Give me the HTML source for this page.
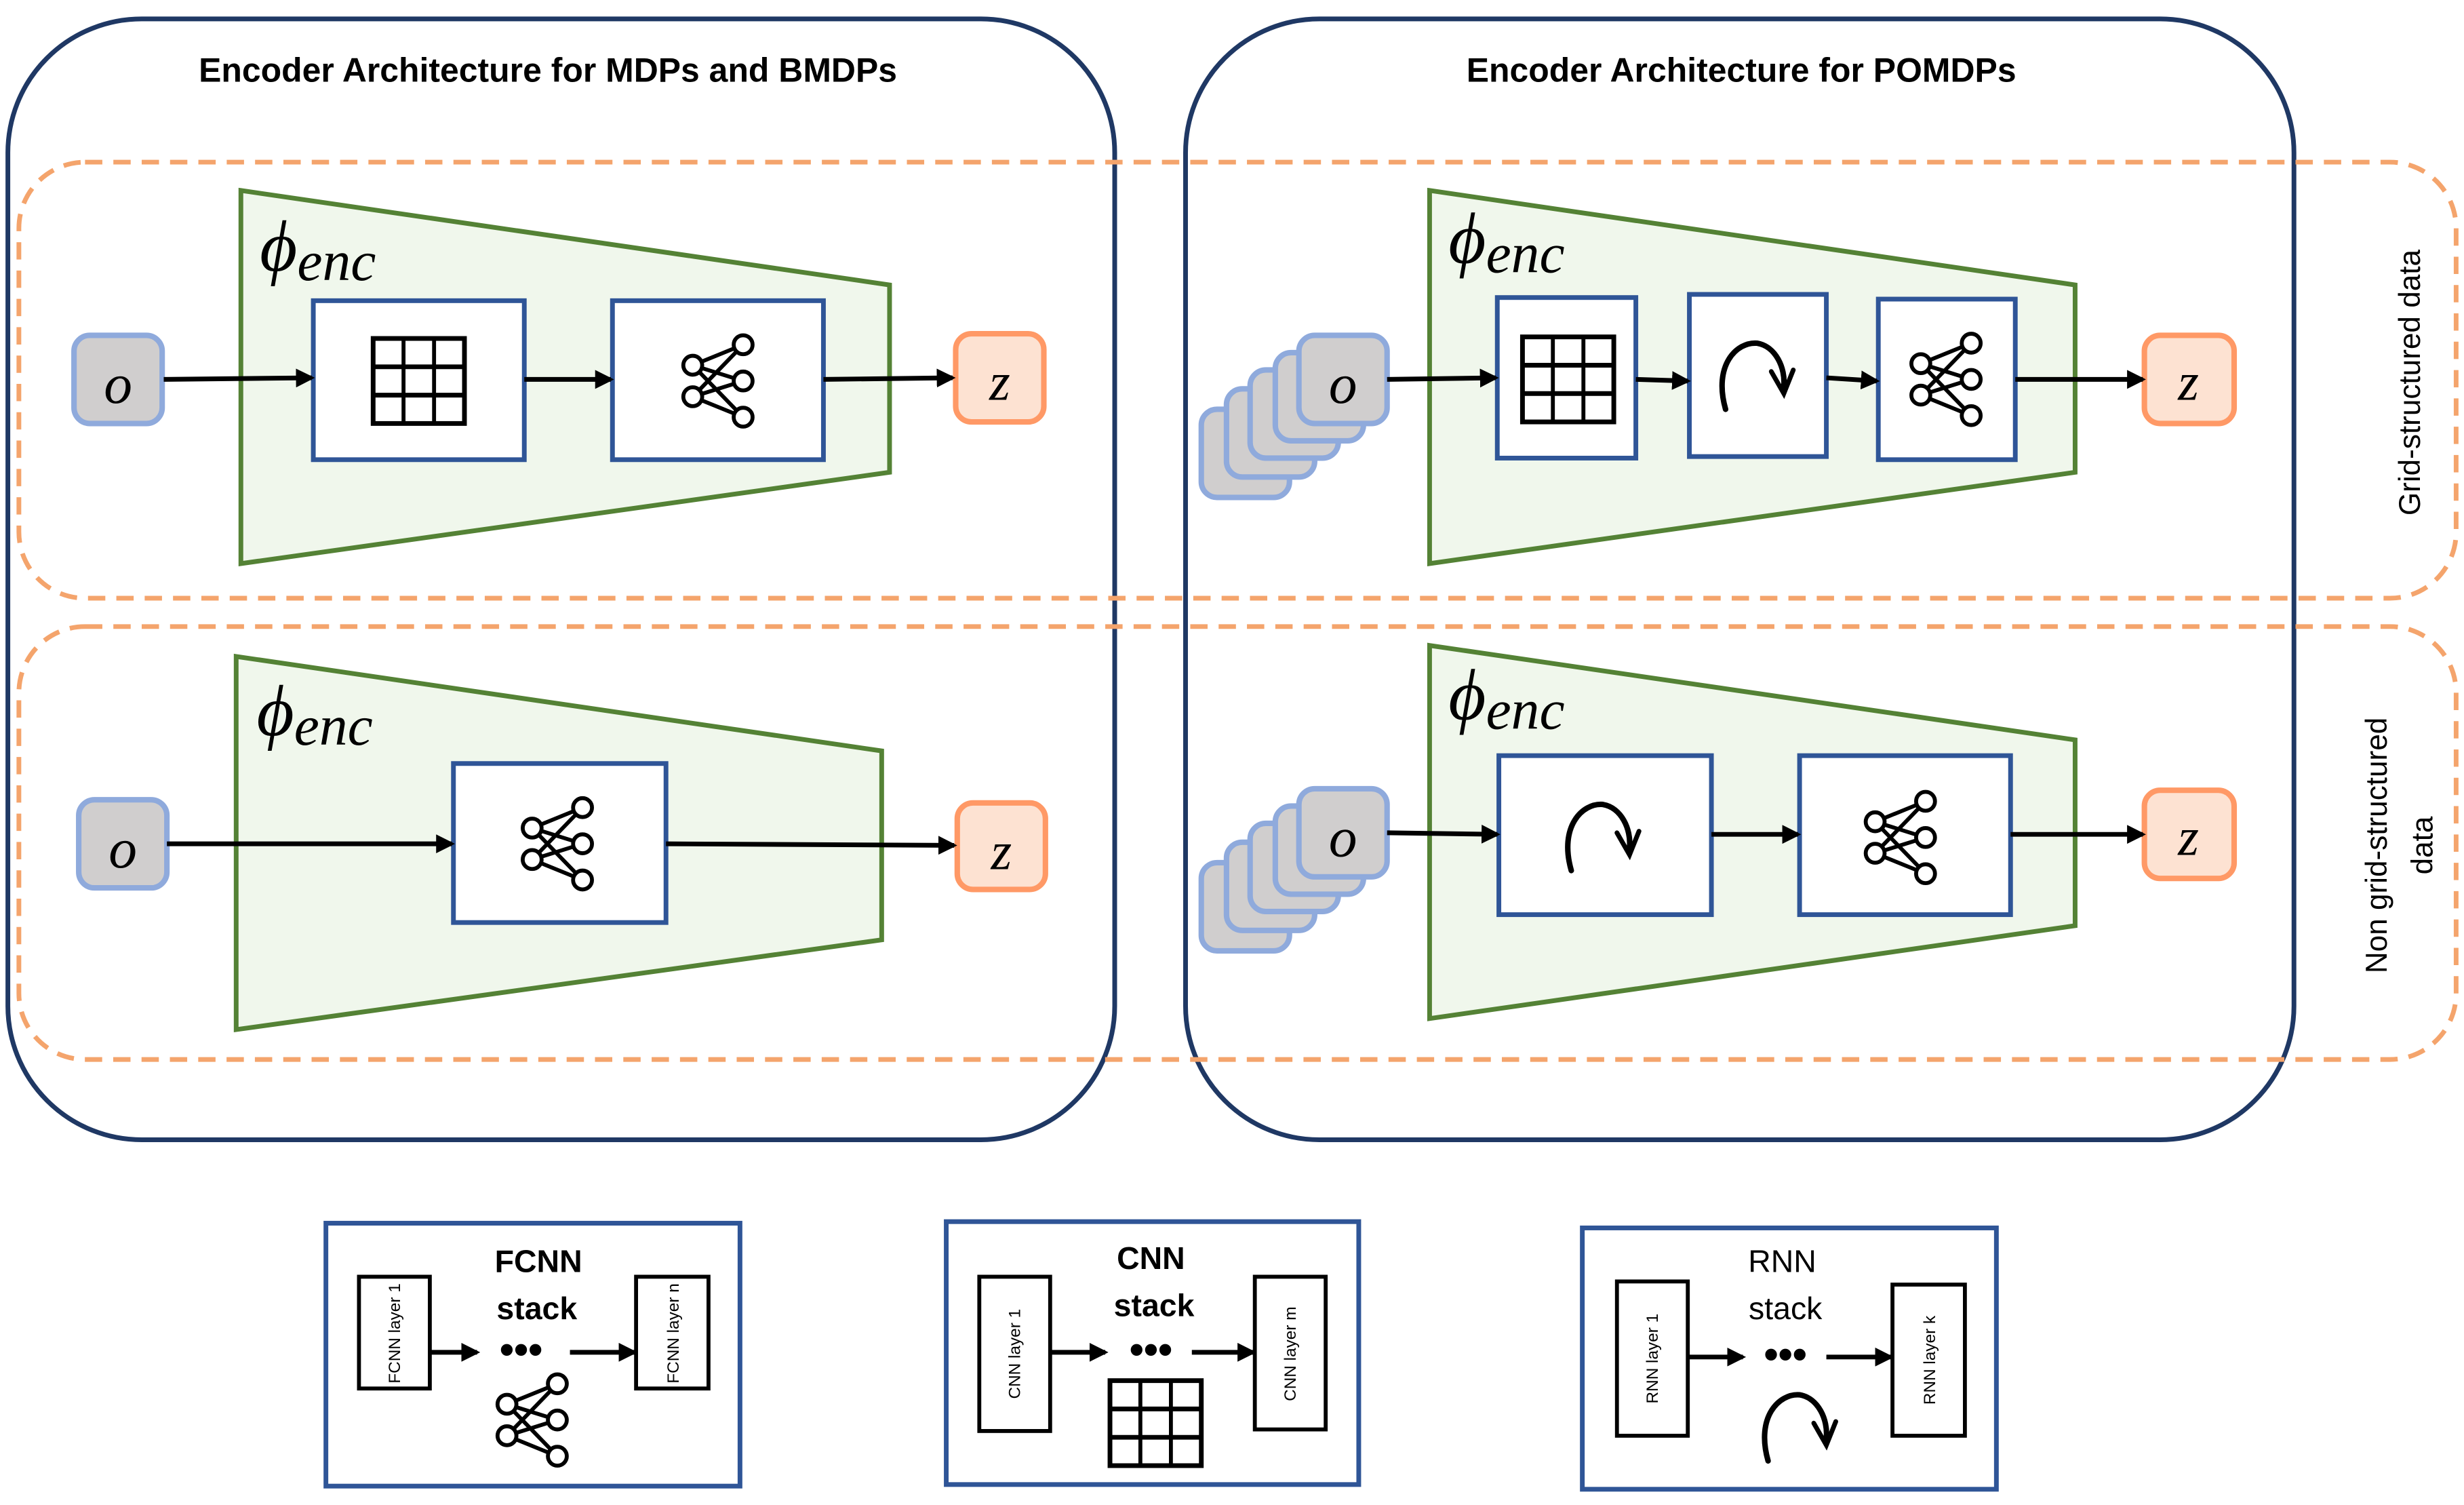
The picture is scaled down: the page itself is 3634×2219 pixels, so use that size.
<!DOCTYPE html>
<html><head><meta charset="utf-8"><style>
html,body{margin:0;padding:0;background:#fff;}
svg{display:block;}
</style></head><body>
<svg xmlns="http://www.w3.org/2000/svg" width="3634" height="2219" viewBox="0 0 1565 956" preserveAspectRatio="none">
<defs>
<marker id="ah" markerWidth="12" markerHeight="12" refX="10" refY="6" orient="auto" markerUnits="userSpaceOnUse">
<path d="M0,0 L12,6 L0,12 Z" fill="#000"/></marker>
<g id="grid"><rect x="0" y="0" width="58" height="54" fill="none" stroke="#000" stroke-width="3"/>
<line x1="19.3" y1="0" x2="19.3" y2="54" stroke="#000" stroke-width="2.5"/><line x1="38.7" y1="0" x2="38.7" y2="54" stroke="#000" stroke-width="2.5"/>
<line x1="0" y1="18" x2="58" y2="18" stroke="#000" stroke-width="3"/><line x1="0" y1="36" x2="58" y2="36" stroke="#000" stroke-width="3"/></g>
<g id="net" fill="none" stroke="#000" stroke-width="2.5">
<line x1="8" y1="20" x2="40" y2="7"/><line x1="8" y1="20" x2="40" y2="30"/><line x1="8" y1="20" x2="40" y2="53"/>
<line x1="8" y1="40" x2="40" y2="7"/><line x1="8" y1="40" x2="40" y2="30"/><line x1="8" y1="40" x2="40" y2="53"/>
<circle cx="8" cy="20" r="6" fill="#fff"/><circle cx="8" cy="40" r="6" fill="#fff"/>
<circle cx="40" cy="7" r="6" fill="#fff"/><circle cx="40" cy="30" r="6" fill="#fff"/><circle cx="40" cy="53" r="6" fill="#fff"/></g>
<g id="rnn" fill="none" stroke="#000" stroke-width="3.5" stroke-linecap="round">
<path d="M8,48 C0,20 15,5 28,6 C40,8 46,22 45,33"/>
<path d="M37,24 L45,38 L51,23" stroke-width="3"/></g>
<g id="obox"><rect x="0" y="0" width="56" height="56" rx="10" fill="#d0cece" stroke="#8faadc" stroke-width="3.5"/></g>
</defs>
<style>
.t{font-family:"Liberation Sans",sans-serif;}
.m{font-family:"Liberation Serif",serif;font-style:italic;}
</style>

<rect x="5" y="12" width="703" height="712" rx="85" fill="none" stroke="#1f3864" stroke-width="3"/>
<rect x="753" y="12" width="704" height="712" rx="85" fill="none" stroke="#1f3864" stroke-width="3"/>
<text class="t" x="348" y="52" font-size="21.5" font-weight="bold" text-anchor="middle">Encoder Architecture for MDPs and BMDPs</text>
<text class="t" x="1106" y="52" font-size="21.5" font-weight="bold" text-anchor="middle">Encoder Architecture for POMDPs</text>

<rect x="12" y="103" width="1548" height="277" rx="42" fill="none" stroke="#f4a46c" stroke-width="3" stroke-dasharray="11,7"/>
<rect x="12" y="398" width="1548" height="275" rx="42" fill="none" stroke="#f4a46c" stroke-width="3" stroke-dasharray="11,7"/>
<text class="t" x="1537" y="243" font-size="19" text-anchor="middle" transform="rotate(-90 1537 243)">Grid-structured data</text>
<text class="t" font-size="19" text-anchor="middle" transform="rotate(-90 1516 537)" x="1516" y="537">Non grid-structured</text>
<text class="t" font-size="19" text-anchor="middle" transform="rotate(-90 1545 537)" x="1545" y="537">data</text>

<polygon points="153,121 565,181 565,300 153,358" fill="#f0f7ec" stroke="#548235" stroke-width="3"/>
<text class="m" x="165" y="172" font-size="46">ϕ<tspan font-size="36" dy="6">enc</tspan></text>
<use href="#obox" x="47" y="213"/>
<text class="m" x="75" y="256" font-size="36" text-anchor="middle">o</text>
<rect x="199" y="191" width="134" height="101" fill="#fff" stroke="#2f5597" stroke-width="3"/>
<use href="#grid" x="237" y="215"/>
<rect x="389" y="191" width="134" height="101" fill="#fff" stroke="#2f5597" stroke-width="3"/>
<use href="#net" x="432" y="212"/>
<rect x="607" y="212" width="56" height="56" rx="10" fill="#fde2d2" stroke="#ff9966" stroke-width="3.5"/>
<text class="m" x="635" y="254" font-size="34" text-anchor="middle">z</text>
<g stroke="#000" stroke-width="3" marker-end="url(#ah)">
<line x1="104" y1="241" x2="198" y2="240"/><line x1="333" y1="241" x2="388" y2="241"/><line x1="523" y1="241" x2="605" y2="240"/></g>

<polygon points="150,417 560,477 560,597 150,654" fill="#f0f7ec" stroke="#548235" stroke-width="3"/>
<text class="m" x="163" y="467" font-size="46">ϕ<tspan font-size="36" dy="6">enc</tspan></text>
<use href="#obox" x="50" y="508"/>
<text class="m" x="78" y="551" font-size="36" text-anchor="middle">o</text>
<rect x="288" y="485" width="135" height="101" fill="#fff" stroke="#2f5597" stroke-width="3"/>
<use href="#net" x="330" y="506"/>
<rect x="608" y="510" width="56" height="55" rx="10" fill="#fde2d2" stroke="#ff9966" stroke-width="3.5"/>
<text class="m" x="636" y="552" font-size="34" text-anchor="middle">z</text>
<g stroke="#000" stroke-width="3" marker-end="url(#ah)">
<line x1="106" y1="536" x2="287" y2="536"/><line x1="423" y1="536" x2="606" y2="537"/></g>

<polygon points="908,121 1318,181 1318,300 908,358" fill="#f0f7ec" stroke="#548235" stroke-width="3"/>
<text class="m" x="920" y="167" font-size="46">ϕ<tspan font-size="36" dy="6">enc</tspan></text>
<use href="#obox" x="763" y="260"/>
<use href="#obox" x="779" y="247"/>
<use href="#obox" x="794" y="235"/>
<use href="#obox" x="810" y="224"/>
<use href="#obox" x="825" y="213"/>
<text class="m" x="853" y="256" font-size="36" text-anchor="middle">o</text>
<rect x="951" y="189" width="88" height="102" fill="#fff" stroke="#2f5597" stroke-width="3"/>
<use href="#grid" x="967" y="214"/>
<rect x="1073" y="187" width="87" height="103" fill="#fff" stroke="#2f5597" stroke-width="3"/>
<use href="#rnn" x="1088" y="212"/>
<rect x="1193" y="190" width="87" height="102" fill="#fff" stroke="#2f5597" stroke-width="3"/>
<use href="#net" x="1212" y="211"/>
<rect x="1362" y="213" width="57" height="56" rx="10" fill="#fde2d2" stroke="#ff9966" stroke-width="3.5"/>
<text class="m" x="1390" y="254" font-size="34" text-anchor="middle">z</text>
<g stroke="#000" stroke-width="3" marker-end="url(#ah)">
<line x1="881" y1="241" x2="950" y2="240"/><line x1="1039" y1="241" x2="1072" y2="242"/><line x1="1160" y1="240" x2="1192" y2="242"/><line x1="1280" y1="241" x2="1361" y2="241"/></g>

<polygon points="908,410 1318,470 1318,588 908,647" fill="#f0f7ec" stroke="#548235" stroke-width="3"/>
<text class="m" x="920" y="457" font-size="46">ϕ<tspan font-size="36" dy="6">enc</tspan></text>
<use href="#obox" x="763" y="548"/>
<use href="#obox" x="779" y="535"/>
<use href="#obox" x="794" y="523"/>
<use href="#obox" x="810" y="512"/>
<use href="#obox" x="825" y="501"/>
<text class="m" x="853" y="544" font-size="36" text-anchor="middle">o</text>
<rect x="952" y="480" width="135" height="101" fill="#fff" stroke="#2f5597" stroke-width="3"/>
<use href="#rnn" x="990" y="505"/>
<rect x="1143" y="480" width="134" height="101" fill="#fff" stroke="#2f5597" stroke-width="3"/>
<use href="#net" x="1183" y="502"/>
<rect x="1362" y="502" width="57" height="56" rx="10" fill="#fde2d2" stroke="#ff9966" stroke-width="3.5"/>
<text class="m" x="1390" y="543" font-size="34" text-anchor="middle">z</text>
<g stroke="#000" stroke-width="3" marker-end="url(#ah)">
<line x1="881" y1="529" x2="951" y2="530"/><line x1="1087" y1="530" x2="1142" y2="530"/><line x1="1277" y1="530" x2="1361" y2="530"/></g>

<rect x="207" y="777" width="263" height="167" fill="#fff" stroke="#2f5597" stroke-width="3"/>
<rect x="228" y="811" width="45" height="71" fill="#fff" stroke="#000" stroke-width="2.5"/>
<rect x="404" y="811" width="46" height="71" fill="#fff" stroke="#000" stroke-width="2.5"/>
<text class="t" font-size="10.5" text-anchor="middle" transform="rotate(-90 254 847)" x="254" y="847">FCNN layer 1</text>
<text class="t" font-size="10.5" text-anchor="middle" transform="rotate(-90 431 847)" x="431" y="847">FCNN layer n</text>
<text class="t" x="342" y="808" font-size="20" font-weight="bold" text-anchor="middle">FCNN</text>
<text class="t" x="341" y="838" font-size="20" font-weight="bold" text-anchor="middle">stack</text>
<g stroke="#000" stroke-width="3" marker-end="url(#ah)"><line x1="273" y1="859" x2="303" y2="859"/><line x1="362" y1="859" x2="403" y2="859"/></g>
<text class="t" x="331" y="866" font-size="26" font-weight="bold" text-anchor="middle">•••</text>
<use href="#net" x="314" y="872"/>

<rect x="601" y="776" width="262" height="167" fill="#fff" stroke="#2f5597" stroke-width="3"/>
<rect x="622" y="811" width="45" height="98" fill="#fff" stroke="#000" stroke-width="2.5"/>
<rect x="797" y="811" width="45" height="97" fill="#fff" stroke="#000" stroke-width="2.5"/>
<text class="t" font-size="10.5" text-anchor="middle" transform="rotate(-90 648 860)" x="648" y="860">CNN layer 1</text>
<text class="t" font-size="10.5" text-anchor="middle" transform="rotate(-90 823 860)" x="823" y="860">CNN layer m</text>
<text class="t" x="731" y="806" font-size="20" font-weight="bold" text-anchor="middle">CNN</text>
<text class="t" x="733" y="836" font-size="20" font-weight="bold" text-anchor="middle">stack</text>
<g stroke="#000" stroke-width="3" marker-end="url(#ah)"><line x1="667" y1="859" x2="702" y2="859"/><line x1="757" y1="859" x2="796" y2="859"/></g>
<text class="t" x="731" y="866" font-size="26" font-weight="bold" text-anchor="middle">•••</text>
<use href="#grid" x="705" y="877"/>

<rect x="1005" y="780" width="263" height="166" fill="#fff" stroke="#2f5597" stroke-width="3"/>
<rect x="1027" y="814" width="45" height="98" fill="#fff" stroke="#000" stroke-width="2.5"/>
<rect x="1202" y="816" width="46" height="96" fill="#fff" stroke="#000" stroke-width="2.5"/>
<text class="t" font-size="10.5" text-anchor="middle" transform="rotate(-90 1053 863)" x="1053" y="863">RNN layer 1</text>
<text class="t" font-size="10.5" text-anchor="middle" transform="rotate(-90 1229 864)" x="1229" y="864">RNN layer k</text>
<text class="t" x="1132" y="808" font-size="20" text-anchor="middle">RNN</text>
<text class="t" x="1134" y="838" font-size="20" text-anchor="middle">stack</text>
<g stroke="#000" stroke-width="3" marker-end="url(#ah)"><line x1="1072" y1="862" x2="1107" y2="862"/><line x1="1160" y1="862" x2="1201" y2="862"/></g>
<text class="t" x="1134" y="869" font-size="26" font-weight="bold" text-anchor="middle">•••</text>
<use href="#rnn" x="1115" y="880"/>
</svg>
</body></html>
